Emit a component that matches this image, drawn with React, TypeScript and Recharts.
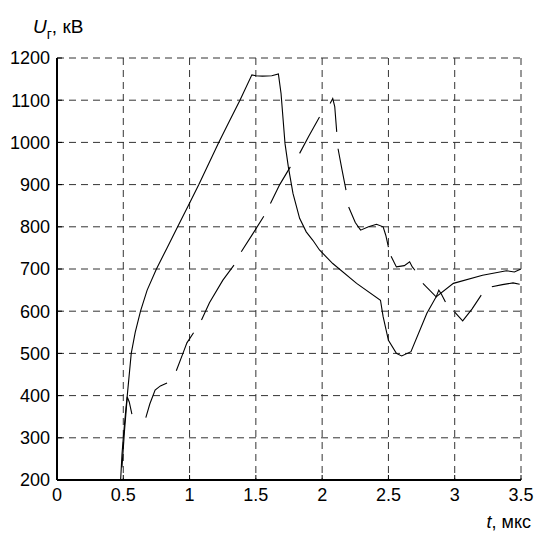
import React from 'react';
import { LineChart, Line, XAxis, YAxis, CartesianGrid } from 'recharts';

// solid curve
const solidT = [0, 0.48, 0.49, 0.5, 0.52, 0.53, 0.56, 0.59, 0.63, 0.68, 0.75, 0.83, 0.91, 0.99, 1.07, 1.145, 1.22, 1.3, 1.38, 1.47, 1.5, 1.55, 1.62, 1.67, 1.69, 1.72, 1.745, 1.78, 1.83, 1.88, 1.93, 1.98, 2.08, 2.26, 2.44, 2.46, 2.5, 2.56, 2.6, 2.67, 2.79, 2.86, 2.99, 3.21, 3.39, 3.45, 3.5];
const solidU = [200, 200, 260, 300, 370, 400, 500, 550, 600, 650, 700, 750, 800, 850, 900, 950, 1000, 1050, 1100, 1160, 1158, 1157, 1158, 1162, 1116, 997, 942, 879, 820, 788, 768, 745, 713, 666, 626, 587, 531, 500, 494, 504, 595, 634, 666, 685, 696, 693, 700];

// dashed curve, null = gap between dashes
const dashedT = [0.49, 0.51, 0.53, 0.545, 0.565, 0.6, 0.67, 0.7, 0.74, 0.78, 0.83, 0.86, 0.9, 0.95, 0.98, 1.03, 1.06, 1.09, 1.15, 1.25, 1.335, 1.365, 1.39, 1.48, 1.56, 1.585, 1.61, 1.68, 1.76, 1.8, 1.83, 1.9, 1.98, 2.02, 2.06, 2.08, 2.095, 2.11, 2.115, 2.12, 2.15, 2.18, 2.19, 2.2, 2.25, 2.29, 2.35, 2.41, 2.46, 2.48, 2.5, 2.51, 2.52, 2.56, 2.62, 2.66, 2.68, 2.7, 2.73, 2.76, 2.86, 2.88, 2.9, 2.93, 2.96, 3.0, 3.06, 3.13, 3.2, 3.24, 3.28, 3.36, 3.44, 3.49];
const dashedU = [230, 320, 397, 385, 356, null, 348, 380, 413, 423, 430, null, 459, 500, 525, 549, null, 579, 620, 673, 709, null, 741, 785, 825, null, 855, 900, 942, null, 974, 1015, 1060, null, 1092, 1104, 1085, 1025, null, 985, 935, 887, null, 847, 810, 792, 800, 806, 800, 780, 752, null, 730, 705, 708, 717, 705, 697, null, 666, 634, 650, 640, 622, null, 598, 577, 605, 638, null, 658, 663, 667, 664];

const xTicks = [0, 0.5, 1, 1.5, 2, 2.5, 3, 3.5];
const yTicks = [200, 300, 400, 500, 600, 700, 800, 900, 1000, 1100, 1200];

const solidData = solidT.map((t, i) => ({ t, u: solidU[i] }));
const dashedData = dashedT.map((t, i) => ({ t, u: dashedU[i] }));

const FONT = '"Liberation Sans", Arial, sans-serif';

export default function App() {
  return (
    <div style={{ position: 'absolute', left: 0, top: 0, width: 537, height: 533, background: '#fff' }}>
      <LineChart width={537} height={533} margin={{ top: 58, right: 16, bottom: 23, left: 0 }}>
        <CartesianGrid stroke="#333" strokeDasharray="7 5" />
        <XAxis
          dataKey="t"
          type="number"
          domain={[0, 3.5]}
          ticks={xTicks}
          height={30}
          allowDuplicatedCategory={false}
          tickSize={-5}
          tickMargin={13}
          axisLine={{ stroke: '#000', strokeWidth: 2 }}
          tickLine={{ stroke: '#000' }}
          tick={{ fill: '#000', fontSize: 18, fontFamily: FONT }}
        />
        <YAxis
          type="number"
          domain={[200, 1200]}
          ticks={yTicks}
          width={57}
          tickSize={-5}
          tickMargin={12}
          axisLine={{ stroke: '#000', strokeWidth: 2 }}
          tickLine={{ stroke: '#000' }}
          tick={{ fill: '#000', fontSize: 18, fontFamily: FONT }}
        />
        <Line data={solidData} dataKey="u" type="linear" stroke="#000" strokeWidth={1.1} dot={false} isAnimationActive={false} />
        <Line data={dashedData} dataKey="u" type="linear" stroke="#000" strokeWidth={1.1} dot={false} connectNulls={false} isAnimationActive={false} />
      </LineChart>
      <svg width={537} height={533} style={{ position: 'absolute', left: 0, top: 0, pointerEvents: 'none' }}>
        <text x={33} y={33} fontFamily={FONT} fontSize={19} fill="#000">
          <tspan fontStyle="italic">U</tspan>
          <tspan fontSize={14} dy={6}>г</tspan>
          <tspan dy={-6}>, кВ</tspan>
        </text>
        <text x={531} y={528} textAnchor="end" fontFamily={FONT} fontSize={18} fill="#000">
          <tspan fontStyle="italic">t</tspan>, мкс
        </text>
      </svg>
    </div>
  );
}
